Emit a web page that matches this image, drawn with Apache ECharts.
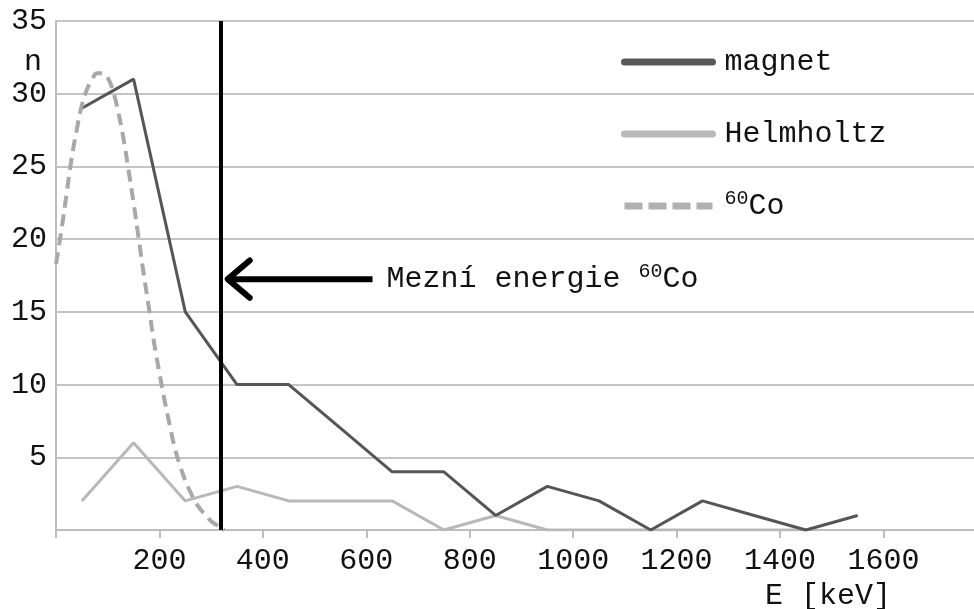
<!DOCTYPE html>
<html><head><meta charset="utf-8">
<script src="https://cdn.jsdelivr.net/npm/echarts@6/dist/echarts.min.js"></script>
<style>html,body{margin:0;padding:0;background:#fff}#c{width:974px;height:609px}</style>
</head><body><div id="c"></div>
<script>
// ---- data ----
const magnetE = [50,150,250,350,450,550,650,750,850,950,1050,1150,1250,1350,1450,1550];
const magnetN = [29,31,15,10,10,7,4,4,1,3,2,0,2,1,0,1];
const helmE = [50,150,250,350,450,550,650,750,850,950,1050,1150,1250,1350,1450];
const helmN = [2,6,2,3,2,2,2,0,1,0,0,0,0,0,0];
const coE = [0,10,20,30,40,50,60,70,80,90,100,110,120,130,140,150,160,170,180,190,200,210,220,230,240,250,260,270,280,290,300,310,320,326];
const coN = [18.3,20.5,23,25.5,27.5,29.2,30.3,31.0,31.4,31.4,31.1,30.2,28.8,27,24.8,22.5,20,17.5,15.2,12.8,10.8,8.9,7.2,5.6,4.4,3.4,2.6,1.9,1.4,1.0,0.6,0.35,0.1,0];
const cutoffE = [318];          // Mezní energie 60Co (keV)
const arrowE = [612, 332];      // arrow tail -> tip (keV)
const arrowN = [17.25];
const xTickLabels = ['200','400','600','800','1000','1200','1400','1600'];
const yTickLabels = ['5','10','15','20','25','30','35'];

const FONT = '"Liberation Mono", "Courier New", monospace';
const FS = 30;
const chart = echarts.init(document.getElementById('c'), null, {renderer:'canvas'});
const pair = (xs, ys) => xs.map((x,i)=>[x, ys[i]]);

chart.setOption({
  animation:false,
  backgroundColor:'#fff',
  grid:{left:56, right:0, top:21, bottom:79, containLabel:false},
  xAxis:{type:'value', min:0, max:1775, interval:200,
    axisLine:{show:true, lineStyle:{color:'#bdbdbd', width:2}},
    axisTick:{show:true, length:8, lineStyle:{color:'#bdbdbd', width:2}},
    splitLine:{show:false},
    axisLabel:{margin:16, fontFamily:FONT, fontSize:FS, color:'#111', showMaxLabel:false,
      formatter:v => xTickLabels.includes(String(v)) ? String(v) : ''}
  },
  yAxis:{type:'value', min:0, max:35, interval:5,
    axisLine:{show:true, lineStyle:{color:'#bdbdbd', width:2}},
    axisTick:{show:false},
    splitLine:{show:true, lineStyle:{color:'#c4c4c4', width:2}},
    axisLabel:{margin:9, fontFamily:FONT, fontSize:FS, color:'#111',
      formatter:v => yTickLabels.includes(String(v)) ? String(v) : ''}
  },
  legend:{
    orient:'vertical', left:621, top:45, padding:0, itemWidth:88, itemHeight:14, itemGap:38,
    textStyle:{fontFamily:FONT, fontSize:FS, color:'#111', lineHeight:34, padding:[0,0,0,7],
      rich:{s:{fontFamily:FONT, fontSize:20, verticalAlign:'top', lineHeight:16, color:'#111'},
            b:{fontFamily:FONT, fontSize:FS, lineHeight:34, color:'#111'}}},
    formatter: n => n === 'Co60' ? '{s|60}{b|Co}' : n,
    data:[
      {name:'magnet', itemStyle:{opacity:0}, lineStyle:{color:'#585858', width:7, cap:'round', opacity:1}},
      {name:'Helmholtz', itemStyle:{opacity:0}, lineStyle:{color:'#b9b9b9', width:7, cap:'round', opacity:1}},
      {name:'Co60', itemStyle:{opacity:0}, lineStyle:{color:'#b0b0b0', width:7, type:[18,6], opacity:1}}
    ]
  },
  series:[
    {name:'magnet', type:'line', data:pair(magnetE, magnetN), showSymbol:false, symbol:'none',
      lineStyle:{color:'#555555', width:3}, itemStyle:{color:'#555555'}, z:3},
    {name:'Helmholtz', type:'line', data:pair(helmE, helmN), showSymbol:false, symbol:'none',
      lineStyle:{color:'#b8b8b8', width:3}, itemStyle:{color:'#b8b8b8'}, z:2},
    {name:'Co60', type:'line', data:pair(coE, coN), smooth:true, showSymbol:false, symbol:'none',
      lineStyle:{color:'#a8a8a8', width:4, type:[12,7]}, itemStyle:{color:'#a8a8a8'}, z:4,
      markLine:{silent:true, symbol:'none', label:{show:false},
        lineStyle:{color:'#000', width:4, type:'solid'},
        data:[{xAxis:cutoffE[0]}]}}
  ]
});

function drawAnnot(){
  const tail = chart.convertToPixel({gridIndex:0}, [arrowE[0], arrowN[0]]);
  const tip = chart.convertToPixel({gridIndex:0}, [arrowE[1], arrowN[0]]);
  const headL = 22;
  chart.setOption({graphic:[
    {type:'line', shape:{x1:tail[0], y1:tail[1], x2:tip[0]+3, y2:tip[1]}, style:{stroke:'#000', lineWidth:6}},
    {type:'polyline', shape:{points:[[tip[0]+headL, tip[1]-headL*0.85],[tip[0], tip[1]],[tip[0]+headL, tip[1]+headL*0.85]]},
      style:{stroke:'#000', fill:null, lineWidth:6, lineCap:'round', lineJoin:'round'}},
    {type:'text', x:tail[0]+14, y:tip[1], style:{
      text:'{a|Mezní energie }{s|60}{a|Co}', verticalAlign:'middle', align:'left',
      rich:{a:{fontFamily:FONT, fontSize:FS, lineHeight:34, fill:'#111'},
            s:{fontFamily:FONT, fontSize:20, lineHeight:16, verticalAlign:'top', fill:'#111'}}}},
    {type:'text', left:765, top:581, style:{text:'E [keV]', fontFamily:FONT, fontSize:FS, fill:'#111'}},
    {type:'text', left:24, top:47, style:{text:'n', fontFamily:FONT, fontSize:FS, fill:'#111'}}
  ]});
}
drawAnnot();
</script></body></html>
